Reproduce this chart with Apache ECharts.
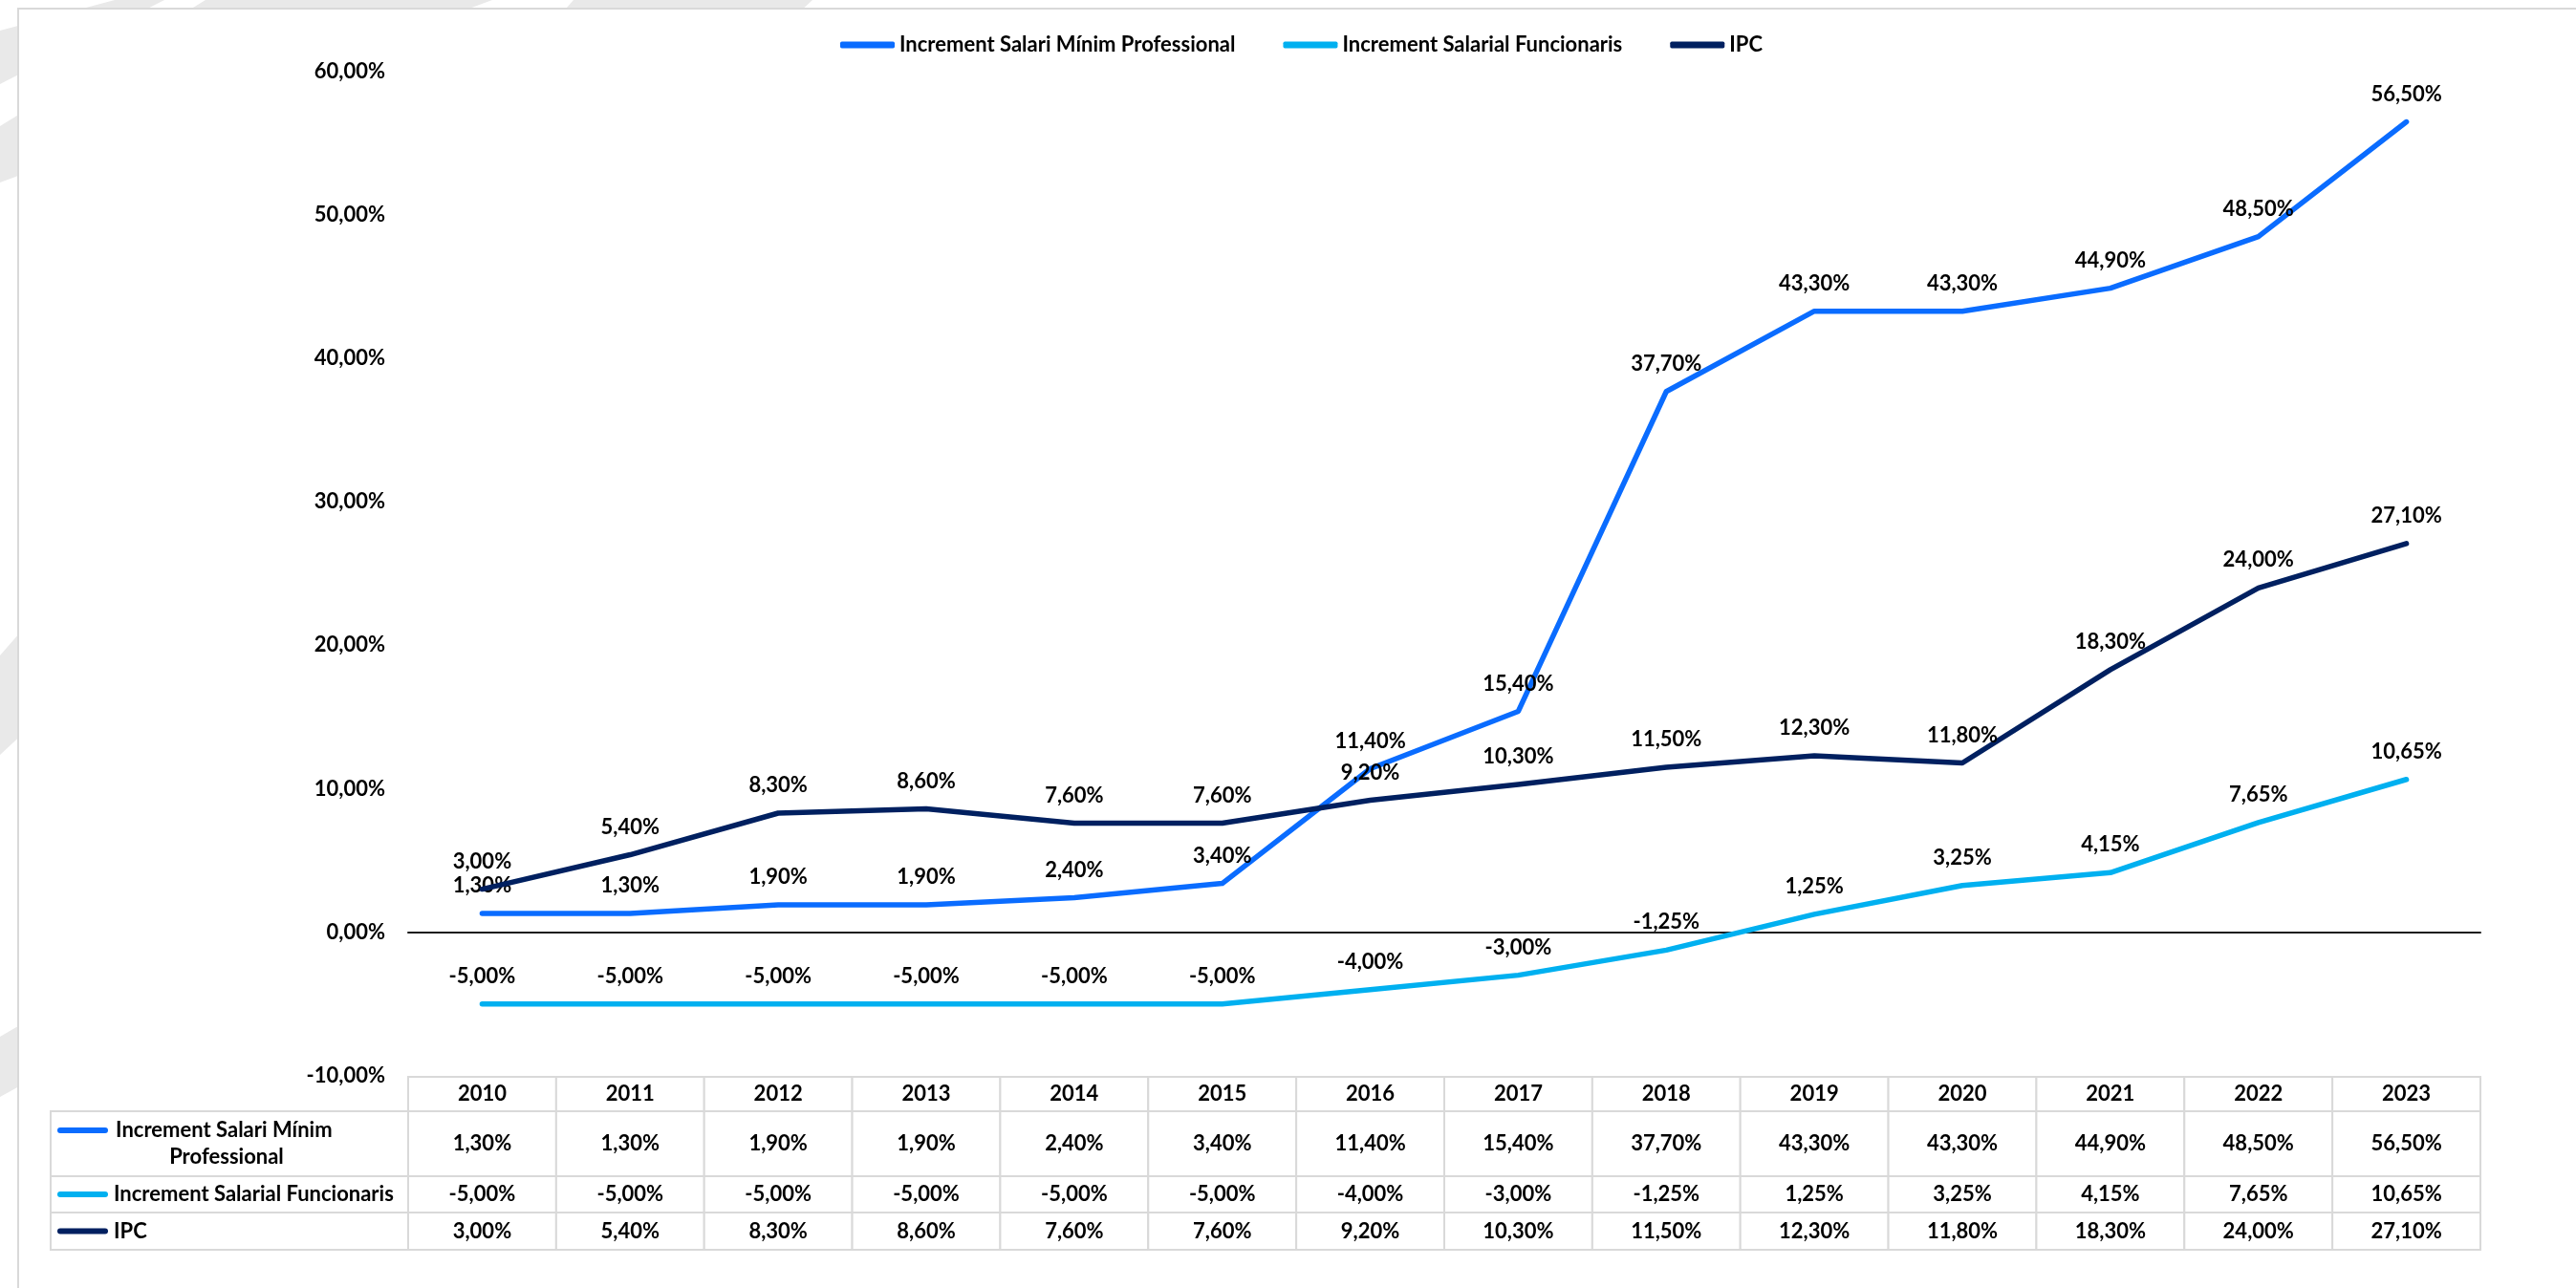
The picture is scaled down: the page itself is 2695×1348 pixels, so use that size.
<!DOCTYPE html>
<html>
<head>
<meta charset="utf-8">
<script src="https://cdn.jsdelivr.net/npm/echarts@6/dist/echarts.min.js"></script>
<style>
  html, body { margin: 0; padding: 0; background: #fff; }
  #chart { width: 2695px; height: 1348px; }
</style>
</head>
<body>
<div id="chart"></div>
<script>
// dades
const years = ['2010', '2011', '2012', '2013', '2014', '2015', '2016', '2017', '2018', '2019', '2020', '2021', '2022', '2023'];
const salariMinim = [1.3, 1.3, 1.9, 1.9, 2.4, 3.4, 11.4, 15.4, 37.7, 43.3, 43.3, 44.9, 48.5, 56.5];
const funcionaris = [-5, -5, -5, -5, -5, -5, -4, -3, -1.25, 1.25, 3.25, 4.15, 7.65, 10.65];
const ipc = [3.0, 5.4, 8.3, 8.6, 7.6, 7.6, 9.2, 10.3, 11.5, 12.3, 11.8, 18.3, 24.0, 27.1];
const seriesNames = ['Increment Salari Mínim Professional', 'Increment Salarial Funcionaris', 'IPC'];
const yMin = -10, yMax = 60, yStep = 10;

const colors = ['#0A6CFF', '#00B0F0', '#002060'];
const FONT = 'Lato, "Liberation Sans", Arial, sans-serif';
const fmt = v => v.toFixed(2).replace('.', ',') + '%';

/* taula de dades sota el gràfic */
const allValues = [salariMinim, funcionaris, ipc];
const rowEdges = [0, 36, 104, 142, 181]; // capçalera + 3 files (px)
const headW = 374; // amplada de la columna amb els noms
const tableCells = [];
years.forEach((y, i) => tableCells.push({ col: i, row: -1, text: y }));
allValues.forEach((vals, s) => {
  tableCells.push({ col: 0, row: s, kind: 'rowhead', text: seriesNames[s], color: colors[s] });
  vals.forEach((v, i) => tableCells.push({ col: i, row: s, text: fmt(v) }));
});

function renderCell(params, api) {
  const cell = tableCells[params.dataIndex];
  const c = api.coord([cell.col, 0]);
  const colW = api.size([1, 0])[0];
  const yTop = api.coord([0, rowEdges[cell.row + 1]])[1];
  const yBot = api.coord([0, rowEdges[cell.row + 2]])[1];
  const cy = (yTop + yBot) / 2;
  const txt = { fontSize: 22, fontWeight: 'bold', fontFamily: FONT, fill: '#000' };
  if (cell.kind === 'rowhead') {
    const x0 = params.coordSys.x - headW;
    const wrap = cell.row === 0;
    const iy = wrap ? cy - 14 : cy;
    return {
      type: 'group',
      children: [
        { type: 'rect', shape: { x: x0, y: yTop, width: headW, height: yBot - yTop },
          style: { fill: '#fff', stroke: '#d9d9d9', lineWidth: 2 } },
        { type: 'line', shape: { x1: x0 + 10, y1: iy, x2: x0 + 57, y2: iy },
          style: { stroke: cell.color, lineWidth: 6, lineCap: 'round' } },
        { type: 'text', style: Object.assign({
            text: cell.text,
            x: wrap ? x0 + 184 : x0 + 66,
            y: cy,
            align: wrap ? 'center' : 'left',
            verticalAlign: 'middle',
            width: wrap ? 262 : 320,
            overflow: 'break',
            lineHeight: 28
          }, txt) }
      ]
    };
  }
  return {
    type: 'group',
    children: [
      { type: 'rect', shape: { x: c[0] - colW / 2, y: yTop, width: colW, height: yBot - yTop },
        style: { fill: '#fff', stroke: '#d9d9d9', lineWidth: 2 } },
      { type: 'text', style: Object.assign({
          text: cell.text, x: c[0], y: cy, align: 'center', verticalAlign: 'middle'
        }, txt) }
    ]
  };
}

const lineSeries = allValues.map((vals, s) => ({
  name: seriesNames[s],
  type: 'line',
  data: vals,
  xAxisIndex: 0,
  yAxisIndex: 0,
  symbol: 'circle',
  symbolSize: 2,
  itemStyle: { color: colors[s] },
  lineStyle: { color: colors[s], width: 5.5, cap: 'round', join: 'round' },
  label: {
    show: true,
    position: 'top',
    distance: 17,
    formatter: p => fmt(p.value),
    fontSize: 22,
    fontWeight: 'bold',
    fontFamily: FONT,
    color: '#000'
  },
  z: 3 + s
}));

const chart = echarts.init(document.getElementById('chart'));
chart.setOption({
  animation: false,
  backgroundColor: '#fff',
  graphic: [
    // franges grises del fons
    { type: 'polygon', z: -20, shape: { points: [[0, 32], [120, 0], [172, 0], [0, 88]] }, style: { fill: '#e9e9e9' } },
    { type: 'polygon', z: -20, shape: { points: [[0, 132], [215, 0], [515, 0], [0, 191]] }, style: { fill: '#e9e9e9' } },
    { type: 'polygon', z: -20, shape: { points: [[0, 686], [600, 0], [850, 0], [0, 790]] }, style: { fill: '#e9e9e9' } },
    { type: 'polygon', z: -20, shape: { points: [[0, 1085], [60, 1050], [60, 1115], [0, 1148]] }, style: { fill: '#e9e9e9' } },
    // targeta blanca
    { type: 'rect', z: -10, shape: { x: 19, y: 9, width: 2700, height: 1400 },
      style: { fill: '#fff', stroke: '#d9d9d9', lineWidth: 2 } }
  ],
  legend: {
    data: seriesNames,
    left: 879,
    top: 36,
    padding: 0,
    itemWidth: 57,
    itemHeight: 7,
    itemGap: 50,
    icon: 'roundRect',
    textStyle: { fontSize: 22, fontWeight: 'bold', fontFamily: FONT, color: '#000' }
  },
  grid: [
    { left: 427, right: 100, top: 75, bottom: 222.3 },
    { left: 427, right: 100, top: 1127, height: 181 }
  ],
  xAxis: [
    {
      type: 'category', gridIndex: 0, data: years, boundaryGap: true,
      axisLine: { onZero: true, lineStyle: { color: '#1a1a1a', width: 2 } },
      axisTick: { show: false }, axisLabel: { show: false }
    },
    {
      type: 'category', gridIndex: 1, data: years, boundaryGap: true,
      axisLine: { show: false }, axisTick: { show: false }, axisLabel: { show: false }
    }
  ],
  yAxis: [
    {
      type: 'value', gridIndex: 0, min: yMin, max: yMax, interval: yStep,
      splitLine: { show: false }, axisLine: { show: false }, axisTick: { show: false },
      axisLabel: {
        formatter: v => fmt(v), margin: 24,
        fontSize: 22, fontWeight: 'bold', fontFamily: FONT, color: '#000'
      }
    },
    {
      type: 'value', gridIndex: 1, min: 0, max: 181, inverse: true, show: false
    }
  ],
  series: lineSeries.concat([{
    type: 'custom',
    name: 'taula',
    xAxisIndex: 1,
    yAxisIndex: 1,
    clip: false,
    silent: true,
    renderItem: renderCell,
    data: tableCells.map(c => [c.col, 0])
  }])
});
</script>
</body>
</html>
